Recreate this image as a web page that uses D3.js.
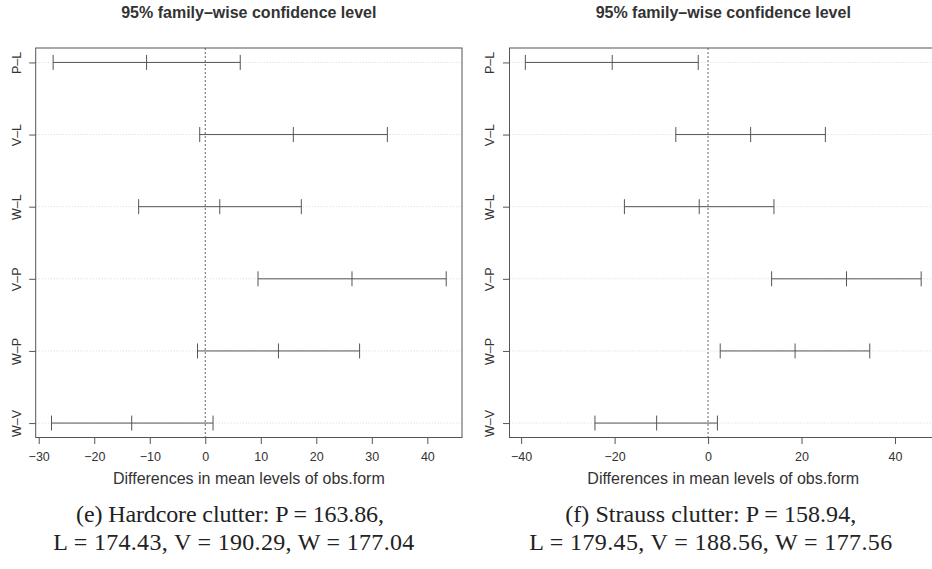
<!DOCTYPE html>
<html>
<head>
<meta charset="utf-8">
<script src="https://cdn.jsdelivr.net/npm/d3@7"></script>
<style>
  body { margin: 0; background: #fff; }
  svg { display: block; }
</style>
</head>
<body>
<svg id="chart"></svg>
<script>
const width = 932;
const height = 569;

// comparisons, top to bottom
const pairs = ['P–L', 'V–L', 'W–L', 'V–P', 'W–P', 'W–V'];

// (e) hardcore clutter
const hardcoreLwr = [-27.4, -1.0, -12.0, 9.5, -1.4, -27.7];
const hardcoreDiff = [-10.57, 15.86, 2.61, 26.43, 13.18, -13.25];
const hardcoreUpr = [6.3, 32.8, 17.3, 43.4, 27.8, 1.4];
const hardcoreTicks = [-30, -20, -10, 0, 10, 20, 30, 40];
const hardcoreCaption = ['(e) Hardcore clutter: P = 163.86,', 'L = 174.43, V = 190.29, W = 177.04'];

// (f) strauss clutter
const straussLwr = [-39.1, -6.9, -17.9, 13.6, 2.6, -24.2];
const straussDiff = [-20.51, 9.11, -1.89, 29.62, 18.62, -11.0];
const straussUpr = [-2.1, 25.1, 14.1, 45.6, 34.6, 2.0];
const straussTicks = [-40, -20, 0, 20, 40];
const straussCaption = ['(f) Strauss clutter: P = 158.94,', 'L = 179.45, V = 188.56, W = 177.56'];

const title = '95% family–wise confidence level';
const xLabel = 'Differences in mean levels of obs.form';

const svg = d3.select('#chart').attr('width', width).attr('height', height);

const plotTop = 48;
const plotBottom = 437.5;
const textCol = '#333';
const lineCol = '#555';

const fmt = (d) => (d < 0 ? '−' + Math.abs(d) : String(d));

const drawPanel = (left, right, lwr, diff, upr, ticks, caption, capX, capW) => {
  const g = svg.append('g');
  const n = pairs.length;
  const lo = d3.min(lwr);
  const hi = d3.max(upr);
  const pad = (hi - lo) * 0.04;

  const xScale = d3.scaleLinear().domain([lo - pad, hi + pad]).range([left, right]);
  const yScale = d3.scaleLinear().domain([0.8, n + 0.2]).range([plotBottom, plotTop]);
  const yval = (i) => n - i;

  // grid lines
  g.selectAll('line.grid')
    .data(pairs)
    .enter()
    .append('line')
    .attr('class', 'grid')
    .attr('x1', left)
    .attr('x2', right)
    .attr('y1', (d, i) => yScale(yval(i)))
    .attr('y2', (d, i) => yScale(yval(i)))
    .attr('stroke', '#d6d6d6')
    .attr('stroke-width', 1)
    .attr('stroke-dasharray', '1,2');

  // zero line
  g.append('line')
    .attr('x1', xScale(0))
    .attr('x2', xScale(0))
    .attr('y1', plotTop)
    .attr('y2', plotBottom)
    .attr('stroke', '#666')
    .attr('stroke-width', 1)
    .attr('stroke-dasharray', '2,2');

  // intervals
  g.selectAll('line.ci')
    .data(pairs)
    .enter()
    .append('line')
    .attr('class', 'ci')
    .attr('x1', (d, i) => xScale(lwr[i]))
    .attr('x2', (d, i) => xScale(upr[i]))
    .attr('y1', (d, i) => yScale(yval(i)))
    .attr('y2', (d, i) => yScale(yval(i)))
    .attr('stroke', lineCol)
    .attr('stroke-width', 1);

  const marks = [];
  pairs.forEach((p, i) => {
    marks.push({ x: lwr[i], i });
    marks.push({ x: diff[i], i });
    marks.push({ x: upr[i], i });
  });
  g.selectAll('line.mark')
    .data(marks)
    .enter()
    .append('line')
    .attr('class', 'mark')
    .attr('x1', (d) => xScale(d.x))
    .attr('x2', (d) => xScale(d.x))
    .attr('y1', (d) => yScale(yval(d.i)) - 7.5)
    .attr('y2', (d) => yScale(yval(d.i)) + 7.5)
    .attr('stroke', lineCol)
    .attr('stroke-width', 1);

  // box
  g.append('rect')
    .attr('x', left)
    .attr('y', plotTop)
    .attr('width', right - left)
    .attr('height', plotBottom - plotTop)
    .attr('fill', 'none')
    .attr('stroke', lineCol)
    .attr('stroke-width', 1);

  // x axis
  const xAxis = d3.axisBottom(xScale).tickValues(ticks).tickFormat(fmt).tickSize(6.5).tickPadding(8.5);
  const gx = g.append('g')
    .attr('transform', 'translate(0,' + plotBottom + ')')
    .call(xAxis);
  gx.select('.domain')
    .attr('d', 'M' + xScale(ticks[0]) + ',0H' + xScale(ticks[ticks.length - 1]))
    .attr('stroke', lineCol);
  gx.selectAll('.tick line').attr('stroke', lineCol);
  gx.selectAll('.tick text')
    .attr('fill', textCol)
    .style('font-family', 'Liberation Sans, Arial, sans-serif')
    .style('font-size', '12.5px');

  // y axis
  const yAxis = d3.axisLeft(yScale)
    .tickValues(pairs.map((p, i) => yval(i)))
    .tickFormat((d) => pairs[n - d])
    .tickSize(6.5);
  const gy = g.append('g')
    .attr('transform', 'translate(' + left + ',0)')
    .call(yAxis);
  gy.select('.domain').remove();
  gy.selectAll('.tick line').attr('stroke', lineCol);
  gy.selectAll('.tick text')
    .attr('transform', 'rotate(-90)')
    .attr('x', 0)
    .attr('y', -15.2)
    .attr('dy', 0)
    .attr('text-anchor', 'middle')
    .attr('fill', textCol)
    .style('font-family', 'Liberation Sans, Arial, sans-serif')
    .style('font-size', '12.5px');

  const mid = (left + right) / 2;

  g.append('text')
    .attr('x', mid)
    .attr('y', 18.3)
    .attr('text-anchor', 'middle')
    .attr('fill', textCol)
    .style('font-family', 'Liberation Sans, Arial, sans-serif')
    .style('font-weight', 'bold')
    .style('font-size', '16px')
    .text(title);

  g.append('text')
    .attr('x', mid)
    .attr('y', 484.3)
    .attr('text-anchor', 'middle')
    .attr('fill', textCol)
    .style('font-family', 'Liberation Sans, Arial, sans-serif')
    .style('font-size', '16px')
    .text(xLabel);

  g.selectAll('text.caption')
    .data(caption)
    .enter()
    .append('text')
    .attr('class', 'caption')
    .attr('x', (d, i) => capX[i])
    .attr('y', (d, i) => 521.7 + i * 28.5)
    .attr('text-anchor', 'middle')
    .attr('textLength', (d, i) => capW[i])
    .attr('lengthAdjust', 'spacing')
    .attr('fill', '#222')
    .style('font-family', 'Liberation Serif, Times New Roman, serif')
    .style('font-size', '24px')
    .text((d) => d);
};

drawPanel(35.7, 462, hardcoreLwr, hardcoreDiff, hardcoreUpr, hardcoreTicks, hardcoreCaption, [230, 233.8], [308, 361]);
drawPanel(509.5, 937, straussLwr, straussDiff, straussUpr, straussTicks, straussCaption, [710.7, 710.7], [291, 363]);
</script>
</body>
</html>
